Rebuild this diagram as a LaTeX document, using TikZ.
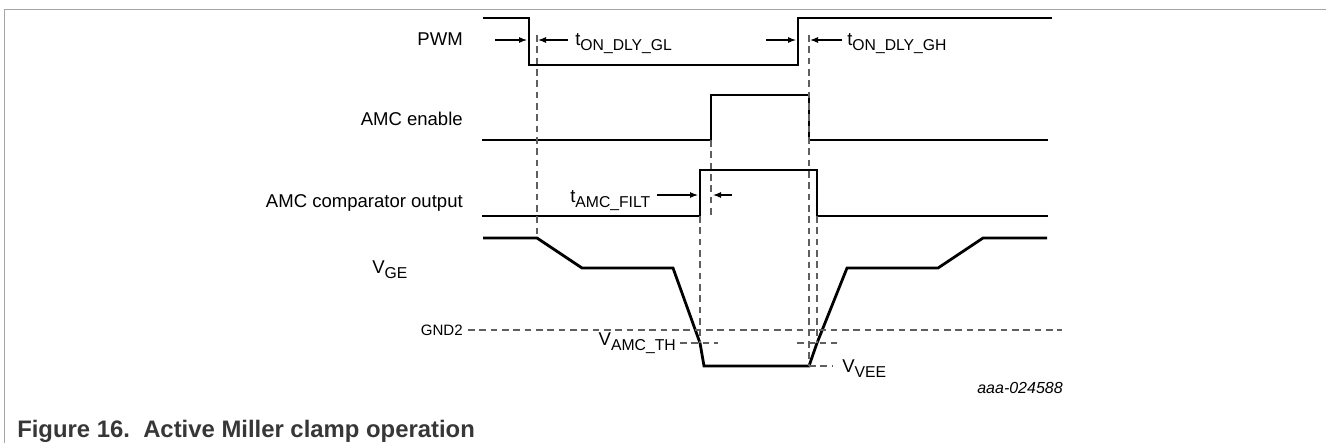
\documentclass[tikz,border=0pt]{standalone}
\usepackage{fontspec}
\setmainfont{Liberation Sans}
\usepackage{tikz}
\usetikzlibrary{arrows.meta}

\definecolor{framegray}{RGB}{165,165,165}
\definecolor{guidegray}{RGB}{95,95,95}
\definecolor{capgray}{RGB}{55,55,55}
\newcommand{\lo}[1]{\raisebox{-3.75pt}{\fontsize{11.8}{12}\selectfont #1}}

\begin{document}
\begin{tikzpicture}[x=0.75pt, y=-0.75pt,
	wave/.style={line width=2.1pt},
	guide/.style={guidegray, line width=0.85pt, dash pattern=on 5pt off 3.5pt},
	dim/.style={->, >={Latex[length=6pt, width=4.5pt]}, line width=0.8pt},
	lbl/.style={inner sep=0pt, font=\fontsize{13.9}{16}\selectfont}]
	\useasboundingbox (0,0) rectangle (1326,443);
	\draw [framegray, line width=0.9pt] (4.5,443) -- (4.5,9.5) -- (1326,9.5);

	% waveforms
	\draw [wave] (483,18) -- (529,18) -- (529,65) -- (798,65) -- (798,18) -- (1052,18);
	\draw [wave] (482,140) -- (711,140) -- (711,95) -- (809,95) -- (809,140) -- (1048,140);
	\draw [wave] (482,216) -- (700,216) -- (700,170) -- (817,170) -- (817,216) -- (1048,216);
	\draw [wave] (483,238) -- (537,238) -- (582,268) -- (673,268) -- (700,343) -- (704,366)
		-- (809,366) -- (817,343) -- (847,268) -- (938,268) -- (983,238) -- (1047,238);

	% guides
	\draw [guide] (537,35) -- (537,238);
	\draw [guide] (809,35) -- (809,366);
	\draw [guide] (711,140) -- (711,216);
	\draw [guide] (700,216) -- (700,343);
	\draw [guide] (817,216) -- (817,343);
	\draw [guide] (468,330) -- (1062,330);
	\draw [guide] (680,343) -- (718,343);
	\draw [guide] (797,343) -- (837,343);
	\draw [guide] (809,366) -- (832,366);

	% delays
	\draw [dim] (495,40) -- (527,40);
	\draw [dim] (568,40) -- (538,40);
	\draw [dim] (766,40) -- (796,40);
	\draw [dim] (842,40) -- (810,40);
	\draw [dim] (657,195) -- (698,195);
	\draw [dim] (732,195) -- (713,195);

	\node [lbl, anchor=base east] (pwm) at (463,45) {PWM};
	\node [lbl, anchor=base east] (amcen) at (463,125) {AMC enable};
	\node [lbl, anchor=base east] (amccmp) at (463,207) {AMC comparator output};
	\node [lbl, anchor=base west] (vge) at (372,273) {V\lo{GE}};
	\node [lbl, anchor=base east, font=\fontsize{11.3}{13}\selectfont] (gnd) at (463,335) {GND2};

	\node [lbl, anchor=base west] (tgl) at (575,45) {t\lo{ON\_DLY\_GL}};
	\node [lbl, anchor=base west] (tgh) at (847,45) {t\lo{ON\_DLY\_GH}};
	\node [lbl, anchor=base west] (tfilt) at (570,202) {t\lo{AMC\_FILT}};
	\node [lbl, anchor=base east] (vth) at (676,345) {V\lo{AMC\_TH}};
	\node [lbl, anchor=base west] (vee) at (842,372) {V\lo{VEE}};

	\node [lbl, anchor=base east, font=\itshape\fontsize{12}{14}\selectfont] (docid) at (1063,393) {aaa-024588};
	\node [lbl, anchor=base west, text=capgray, font=\bfseries\fontsize{17.9}{20}\selectfont] (cap) at (17,437)
		{Figure 16.\ \ Active Miller clamp operation};
\end{tikzpicture}
\end{document}
